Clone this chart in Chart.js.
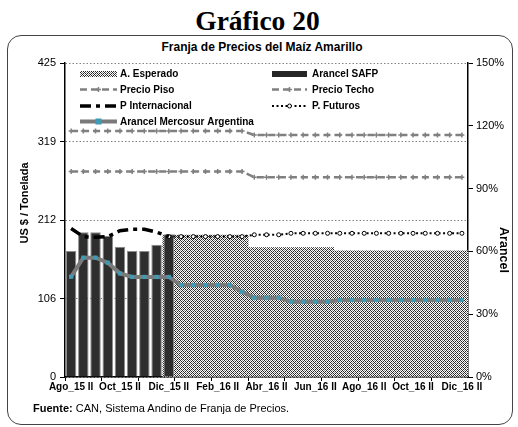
<!DOCTYPE html>
<html>
<head>
<meta charset="utf-8">
<script src="https://cdn.jsdelivr.net/npm/chart.js@4.4.1/dist/chart.umd.min.js"></script>
<style>
    html, body { margin: 0; padding: 0; background: #fff; }
    body { width: 518px; height: 427px; position: relative; overflow: hidden; font-family: "Liberation Sans", Arial, sans-serif; }
    #heading { position: absolute; left: 0; top: 6px; width: 515px; text-align: center; font: bold 27.5px/30px "Liberation Serif", "Times New Roman", serif; }
    #frame { position: absolute; left: 7px; top: 35px; width: 506px; height: 390px; border: 1.5px solid #444; border-radius: 14px; box-sizing: border-box; }
    #chartTitle { position: absolute; left: 7px; top: 40px; width: 510px; text-align: center; font: bold 12px/14px "Liberation Sans", Arial, sans-serif; }
    #source { position: absolute; left: 33px; top: 402px; font: 11px/13px "Liberation Sans", Arial, sans-serif; }
    #wrap { position: absolute; left: 0; top: 0; width: 518px; height: 427px; }
</style>
</head>
<body>
<div id="heading">Gráfico 20</div>
<div id="frame"></div>
<div id="chartTitle">Franja de Precios del Maíz Amarillo</div>
<div id="wrap"><canvas id="franjaChart"></canvas></div>
<div id="source"><b>Fuente:</b> CAN, Sistema Andino de Franja de Precios.</div>

<script>
// Quincenas, Ago_15 II .. Dic_16 II
const periods = [
    'Ago_15 II', 'Sep_15 I', 'Sep_15 II', 'Oct_15 I', 'Oct_15 II', 'Nov_15 I', 'Nov_15 II', 'Dic_15 I', 'Dic_15 II',
    'Ene_16 I', 'Ene_16 II', 'Feb_16 I', 'Feb_16 II', 'Mar_16 I', 'Mar_16 II', 'Abr_16 I', 'Abr_16 II',
    'May_16 I', 'May_16 II', 'Jun_16 I', 'Jun_16 II', 'Jul_16 I', 'Jul_16 II', 'Ago_16 I', 'Ago_16 II',
    'Sep_16 I', 'Sep_16 II', 'Oct_16 I', 'Oct_16 II', 'Nov_16 I', 'Nov_16 II', 'Dic_16 I', 'Dic_16 II'
];
const leftTickLabels = ['0', '106', '212', '319', '425'];
const rightTickLabels = ['0%', '30%', '60%', '90%', '120%', '150%'];

// Arancel (%)
const arancelEsperado = [null, null, null, null, null, null, null, null,
    67.8, 67.8, 67.8, 67.8, 67.8, 67.8, 67.8,
    61.8, 61.8, 61.8, 61.8, 61.8, 61.8, 61.8,
    60.3, 60.3, 60.3, 60.3, 60.3, 60.3, 60.3, 60.3, 60.3, 60.3, 60.3];
const arancelSAFP = [60.2, 69.1, 69.1, 67.4, 62.2, 60.2, 60.2, 63.2, 68.2,
    null, null, null, null, null, null, null, null, null, null, null, null, null, null, null,
    null, null, null, null, null, null, null, null, null];
const arancelMercosur = [47.9, 57.0, 57.0, 54.6, 49.5, 47.8, 47.8, 47.8, 47.8,
    43.9, 43.9, 43.9, 43.9, 43.9, 40.7, 37.9, 37.9, 37.9, 36.0, 36.0, 36.0, 36.0,
    36.8, 36.8, 36.8, 36.8, 36.8, 36.8, 36.8, 36.8, 36.8, 36.8, 36.8];

// Precios (US$ / t)
const precioPiso = [278, 278, 278, 278, 278, 278, 278, 278, 278, 278, 278, 278, 278, 278, 278,
    270.5, 270.5, 270.5, 270.5, 270.5, 270.5, 270.5, 270.5, 270.5, 270.5, 270.5, 270.5, 270.5, 270.5, 270.5, 270.5, 270.5, 270.5];
const precioTecho = [333, 333, 333, 333, 333, 333, 333, 333, 333, 333, 333, 333, 333, 333, 333,
    327.5, 327.5, 327.5, 327.5, 327.5, 327.5, 327.5, 327.5, 327.5, 327.5, 327.5, 327.5, 327.5, 327.5, 327.5, 327.5, 327.5, 327.5];
const precioInternacional = [201, 190, 189, 190, 198, 200, 200, 196, 190,
    null, null, null, null, null, null, null, null, null, null, null, null, null, null, null,
    null, null, null, null, null, null, null, null, null];
const preciosFuturos = [null, null, null, null, null, null, null, null,
    190, 190, 190, 190, 190, 190, 190, 192.5, 192.5, 192.5,
    194.5, 194.5, 194.5, 194.5, 194.5, 194.5, 194.5, 194.5, 194.5, 194.5, 194.5, 194.5, 194.5, 194.5, 194.5];

Chart.defaults.font.family = '"Liberation Sans", Arial, sans-serif';
Chart.defaults.color = '#000';

const canvas = document.getElementById('franjaChart');
const ctx = canvas.getContext('2d');

// crosshatch fill for "A. Esperado"
const tile = document.createElement('canvas');
tile.width = 4; tile.height = 4;
const tctx = tile.getContext('2d');
tctx.fillStyle = '#fff';
tctx.fillRect(0, 0, 4, 4);
tctx.fillStyle = '#262626';
[[0, 0], [1, 1], [2, 2], [3, 3], [3, 1], [1, 3]].forEach(p => tctx.fillRect(p[0], p[1], 1, 1));
tctx.fillStyle = '#8a8a8a';
[[2, 0], [0, 2]].forEach(p => tctx.fillRect(p[0], p[1], 1, 1));
const hatch = ctx.createPattern(tile, 'repeat');

const GRAY = '#808080';

function drawMarker(c, style, x, y, r, fill, stroke) {
    c.save();
    c.setLineDash([]);
    if (style === 'rect') {
        c.fillStyle = fill;
        c.fillRect(x - r, y - r, 2 * r, 2 * r);
    } else if (style === 'circle') {
        c.beginPath();
        c.arc(x, y, r, 0, Math.PI * 2);
        c.fillStyle = fill;
        c.fill();
        c.lineWidth = 1;
        c.strokeStyle = stroke;
        c.stroke();
    } else if (style === 'cross') {
        c.lineWidth = 1.5;
        c.strokeStyle = stroke;
        c.beginPath();
        c.moveTo(x - r, y); c.lineTo(x + r, y);
        c.moveTo(x, y - r); c.lineTo(x, y + r);
        c.stroke();
    }
    c.restore();
}

// legend drawn inside the plot, two columns
const legendSlots = [
    { label: 'A. Esperado', col: 0, row: 0 },
    { label: 'Arancel SAFP', col: 1, row: 0 },
    { label: 'Precio Piso', col: 0, row: 1 },
    { label: 'Precio Techo', col: 1, row: 1 },
    { label: 'P Internacional', col: 0, row: 2 },
    { label: 'P. Futuros', col: 1, row: 2 },
    { label: 'Arancel Mercosur Argentina', col: 0, row: 3 }
];

const insideLegend = {
    id: 'insideLegend',
    afterDraw(chart) {
        const c = chart.ctx;
        const colX = [80, 272];
        const symLen = [37, 35];
        const textX = [120, 312];
        const rowY = [74, 89.5, 106, 121.5];
        c.save();
        c.font = 'bold 10px "Liberation Sans", Arial, sans-serif';
        c.textBaseline = 'middle';
        c.fillStyle = '#000';
        legendSlots.forEach(slot => {
            const ds = chart.data.datasets.find(d => d.label === slot.label);
            const x = colX[slot.col], y = rowY[slot.row], len = symLen[slot.col];
            if (ds.type === 'bar') {
                c.fillStyle = ds.label === 'A. Esperado' ? hatch : '#262626';
                c.fillRect(x, y - 3, len, 6);
            } else {
                c.save();
                c.strokeStyle = ds.borderColor;
                c.lineWidth = ds.borderWidth;
                c.setLineDash(ds.borderDash || []);
                c.beginPath();
                c.moveTo(x, y);
                c.lineTo(x + len, y);
                c.stroke();
                c.restore();
                if (ds.pointRadius > 0) {
                    drawMarker(c, ds.pointStyle, x + len / 2, y, ds.pointRadius, ds.pointBackgroundColor, ds.pointBorderColor);
                }
            }
            c.fillStyle = '#000';
            c.fillText(slot.label, textX[slot.col], y + 0.5);
        });

        // axis titles
        c.font = 'bold 11px "Liberation Sans", Arial, sans-serif';
        c.textAlign = 'center';
        c.save();
        c.translate(25, 203);
        c.rotate(-Math.PI / 2);
        c.fillText('US $ / Tonelada', 0, 0);
        c.restore();
        c.font = 'bold 12.5px "Liberation Sans", Arial, sans-serif';
        c.save();
        c.translate(503, 250);
        c.rotate(Math.PI / 2);
        c.fillText('Arancel', 0, 0);
        c.restore();
        c.restore();
    }
};

new Chart(ctx, {
    type: 'bar',
    data: {
        labels: periods,
        datasets: [
            {
                type: 'line', label: 'Precio Techo', data: precioTecho, yAxisID: 'y',
                borderColor: GRAY, borderWidth: 2.5, borderDash: [7, 4],
                pointStyle: 'cross', pointRadius: 2.5, pointBorderColor: GRAY, pointBackgroundColor: GRAY, pointBorderWidth: 1.5,
                tension: 0, order: 1
            },
            {
                type: 'line', label: 'Precio Piso', data: precioPiso, yAxisID: 'y',
                borderColor: GRAY, borderWidth: 2.5, borderDash: [7, 4],
                pointStyle: 'cross', pointRadius: 2.5, pointBorderColor: GRAY, pointBackgroundColor: GRAY, pointBorderWidth: 1.5,
                tension: 0, order: 1
            },
            {
                type: 'line', label: 'P Internacional', data: precioInternacional, yAxisID: 'y',
                borderColor: '#000', borderWidth: 3.5, borderDash: [11, 5, 4, 5],
                pointRadius: 0, tension: 0, order: 2
            },
            {
                type: 'line', label: 'P. Futuros', data: preciosFuturos, yAxisID: 'y',
                borderColor: '#000', borderWidth: 2, borderDash: [2, 2.5],
                pointStyle: 'circle', pointRadius: 2, pointBackgroundColor: '#fff', pointBorderColor: '#000', pointBorderWidth: 1,
                tension: 0, order: 2
            },
            {
                type: 'line', label: 'Arancel Mercosur Argentina', data: arancelMercosur, yAxisID: 'yR',
                borderColor: '#7a7a7a', borderWidth: 4,
                pointStyle: 'rect', pointRadius: 3, pointBackgroundColor: '#3f9ab3', pointBorderColor: '#3f9ab3', pointBorderWidth: 0,
                tension: 0, order: 3
            },
            {
                type: 'bar', label: 'Arancel SAFP', data: arancelSAFP, yAxisID: 'yR',
                backgroundColor: '#2e2e2e', borderColor: '#8c8c8c', borderWidth: 1,
                barPercentage: 0.86, categoryPercentage: 1, grouped: false, order: 4
            },
            {
                type: 'bar', label: 'A. Esperado', data: arancelEsperado, yAxisID: 'yR',
                backgroundColor: hatch, borderWidth: 0,
                barPercentage: 1, categoryPercentage: 1, grouped: false, order: 5
            }
        ]
    },
    options: {
        responsive: true,
        maintainAspectRatio: false,
        animation: false,
        layout: { padding: { top: 63, left: 8, right: 8, bottom: 30 } },
        plugins: {
            legend: { display: false },
            tooltip: { enabled: false }
        },
        scales: {
            x: {
                offset: true,
                grid: {
                    offset: true,
                    drawOnChartArea: false,
                    tickLength: 4,
                    tickColor: ctx2 => (ctx2.index % 3 === 0 ? '#000' : 'rgba(0,0,0,0)'),
                    tickWidth: 1
                },
                border: { color: '#000', width: 1.5 },
                ticks: {
                    autoSkip: false,
                    maxRotation: 0,
                    padding: 0,
                    font: { size: 10, weight: 'bold' },
                    callback: (v, i) => (i % 4 === 0 ? periods[i] : '')
                },
                afterFit: s => { s.height = 20; }
            },
            y: {
                position: 'left',
                min: 0, max: 425,
                ticks: {
                    stepSize: 106.25,
                    padding: 4,
                    font: { size: 11 },
                    callback: (v, i) => leftTickLabels[i]
                },
                grid: { color: GRAY, lineWidth: 1, tickColor: '#000', tickLength: 5 },
                border: { color: '#000', width: 1.5, dash: [1.5, 2] },
                afterFit: s => { s.width = 57; }
            },
            yR: {
                position: 'right',
                min: 0, max: 150,
                ticks: {
                    stepSize: 30,
                    padding: 3,
                    font: { size: 11 },
                    callback: (v, i) => rightTickLabels[i]
                },
                grid: { drawOnChartArea: false, tickColor: '#000', tickLength: 5 },
                border: { color: '#000', width: 1.5 },
                afterFit: s => { s.width = 42; }
            }
        }
    },
    plugins: [insideLegend]
});
</script>
</body>
</html>
